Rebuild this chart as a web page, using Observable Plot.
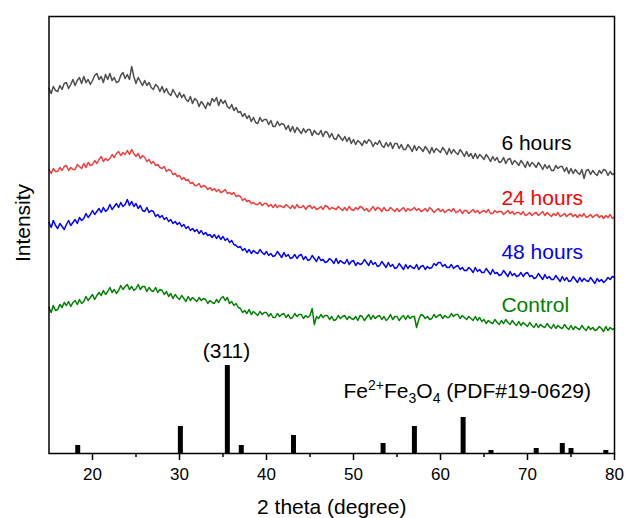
<!DOCTYPE html>
<html><head><meta charset="utf-8">
<script src="https://cdn.jsdelivr.net/npm/d3@7"></script>
<script src="https://cdn.jsdelivr.net/npm/@observablehq/plot@0.6"></script>
<style>body{margin:0;background:#fff;}</style>
</head><body><div id="chart"></div>
<script>
// 2θ sampling of the patterns (degrees)
const thetaStart = 15, thetaStep = 0.25;

// Intensities (a.u., offset-stacked as in the figure), one value every 0.25°
const hours6 = [
365,360,367,363, 362,368,364,370, 371,365,369,374, 368,373,376,370, 377,371,374,369,
373,378,380,374, 377,371,379,374, 380,373,376,371, 372,378,381,375, 379,374,387,377,
370,376,372,368, 373,368,371,366, 364,369,367,362, 367,361,365,360, 358,364,360,356,
361,356,359,354, 352,357,350,355, 353,347,352,349, 345,351,348,355, 352,356,348,354,
350,353,347,345, 349,343,346,341, 342,337,340,335, 338,332,336,331, 330,336,332,334,
334,329,333,327, 327,332,328,330, 329,324,328,322, 327,321,326,323, 320,325,321,324,
324,318,323,320, 319,323,317,322, 321,316,320,315, 314,319,316,313, 317,312,316,310,
314,309,313,311, 308,313,310,314, 312,307,311,309, 313,308,306,311, 307,311,305,310,
310,305,309,304, 304,309,306,302, 308,303,307,305, 302,307,304,300, 306,301,305,303,
301,306,303,299, 305,300,304,301, 299,304,301,297, 302,297,300,295, 300,295,299,297,
294,299,296,292, 297,293,296,291, 292,296,290,294, 295,289,293,291, 288,293,290,286,
292,287,291,289, 286,291,288,284, 289,285,288,283, 283,288,285,287, 287,282,286,280,
285,280,284,281, 279,284,275,283, 284,279,283,280, 278,283,280,284, 283,278,282,279,
280];
const hours24 = [
284,280,285,282, 282,286,283,287, 288,283,286,284, 284,289,287,285, 290,286,291,288,
289,293,290,294, 297,292,295,293, 295,299,296,300, 302,298,301,299, 303,299,304,300,
297,300,295,298, 296,292,294,290, 292,288,289,286, 285,287,282,284, 283,279,280,277,
278,274,276,273, 274,270,271,268, 268,270,266,268, 267,264,266,263, 265,262,264,261,
262,264,260,261, 259,261,257,258, 257,253,255,252, 253,250,251,249, 249,251,248,250,
250,247,249,246, 249,246,248,247, 246,249,247,245, 248,245,249,246, 246,248,244,247,
248,245,247,244, 245,247,244,248, 247,244,246,245, 244,247,245,243, 246,243,247,244,
243,246,244,247, 246,243,245,242, 244,247,243,246, 245,242,246,243, 243,246,244,242,
245,242,244,246, 242,245,243,244, 246,243,245,242, 243,245,242,246, 244,241,243,245,
242,244,241,243, 244,242,245,241, 242,244,240,243, 243,240,242,244, 241,243,240,242,
243,241,244,240, 240,243,241,242, 242,239,241,243, 240,242,239,241, 241,239,242,238,
239,241,238,240, 241,238,240,242, 238,241,239,237, 240,238,241,237, 238,240,237,239,
240,237,239,236, 239,237,240,236, 237,239,236,238, 239,236,238,235, 238,236,239,235,
237];
const hours48 = [
231,226,233,228, 225,230,227,224, 229,233,228,231, 234,230,236,233, 235,240,236,239,
243,239,242,245, 241,246,242,244, 249,244,247,250, 246,251,247,249, 254,248,252,247,
250,245,248,243, 242,246,241,243, 242,237,239,236, 238,234,236,232, 234,230,232,229,
231,227,229,225, 227,223,225,222, 224,220,223,219, 221,218,219,216, 219,215,218,214,
217,213,215,211, 213,209,208,206, 207,203,205,201, 204,200,203,201, 200,204,201,199,
202,198,200,197, 198,202,199,196, 201,197,199,195, 196,199,195,198, 199,194,197,193,
194,198,195,192, 197,193,194,191, 192,195,193,190, 195,190,193,191, 190,194,189,192,
193,188,191,189, 190,194,191,188, 193,189,191,187, 188,192,189,186, 191,187,189,185,
186,190,187,184, 189,185,188,186, 185,189,184,187, 188,184,187,185, 186,190,188,191,
191,187,189,186, 186,189,185,187, 188,184,186,183, 183,186,184,181, 186,182,184,181,
181,185,182,179, 184,180,181,178, 179,183,180,177, 182,178,180,177, 178,181,177,180,
181,177,178,175, 176,180,177,174, 179,175,177,174, 174,178,175,172, 177,173,176,172,
173,177,174,171, 176,172,175,173, 172,176,173,170, 175,172,174,171, 173,176,174,177,
176];
const control = [
146,141,148,143, 144,149,146,151, 148,152,147,151, 153,149,154,150, 152,157,153,156,
159,154,158,161, 158,163,159,162, 166,161,164,160, 163,168,164,167, 169,164,167,163,
165,169,164,167, 167,162,166,163, 162,166,161,164, 163,159,162,157, 160,155,159,156,
154,158,155,152, 157,153,156,154, 152,156,153,155, 154,150,153,151, 150,154,151,155,
157,153,156,150, 152,148,150,146, 145,141,143,140, 144,139,142,140, 138,142,139,141,
141,137,140,136, 136,140,137,139, 140,136,139,135, 136,140,137,139, 139,135,138,136,
138,145,129,137, 135,139,136,138, 138,134,137,133, 134,138,135,137, 138,134,137,135,
134,137,133,138, 137,133,136,139, 134,138,135,137, 138,134,137,133, 135,139,134,137,
137,133,136,138, 134,138,135,137, 137,126,134,139, 138,135,137,134, 135,139,136,138,
139,135,138,136, 136,140,137,139, 139,135,138,136, 134,137,135,133, 137,133,136,132,
134,130,133,131, 130,134,131,129, 133,130,134,131, 129,133,130,128, 132,128,131,129,
127,131,128,126, 130,126,129,127, 126,130,127,125, 129,125,128,126, 125,129,126,124,
128,124,127,125, 124,128,125,123, 127,124,126,123, 124,127,125,122, 127,123,126,124,
125];

// Reference pattern Fe2+Fe3O4 (PDF#19-0629)
const refTheta = [18.3, 30.1, 35.5, 37.1, 43.1, 53.4, 57.0, 62.6, 65.8, 71.0, 74.0, 75.0, 79.0];
const refIntensity = [8, 27, 88, 8, 18, 10, 27, 36, 3, 5, 10, 5, 3];

const seriesNames = ["6 hours", "24 hours", "48 hours", "Control"];
const seriesColors = ["#4d4d4d", "#f03c3c", "#0000ff", "#008000"];
const labelColors = ["#000000", "#ff0000", "#0000ff", "#008000"];
const labelIntensity = [310, 255, 201, 148];
const labelTheta = 67;
const majorTicks = [20, 30, 40, 50, 60, 70, 80];
const minorTicks = [25, 35, 45, 55, 65, 75];

const rows = [];
[hours6, hours24, hours48, control].forEach((arr, s) =>
  arr.forEach((v, i) => rows.push({theta: thetaStart + i * thetaStep, intensity: v, series: seriesNames[s]})));
const peaks = refTheta.map((t, i) => ({theta: t, h: refIntensity[i]}));

const font = "'Liberation Sans', Arial, Helvetica, sans-serif";
const labelMarks = seriesNames.map((n, i) =>
  Plot.text([{theta: labelTheta, y: labelIntensity[i], name: n}],
    {x: "theta", y: "y", text: "name", fill: labelColors[i], textAnchor: "start", fontSize: 21}));

const chart = Plot.plot({
  width: 627, height: 518,
  marginLeft: 48.5, marginRight: 13, marginTop: 16, marginBottom: 65,
  style: {fontFamily: font, background: "white", color: "black"},
  x: {domain: [15, 80]},
  y: {domain: [0, 437], axis: null},
  color: {domain: seriesNames, range: seriesColors},
  marks: [
    Plot.ruleX(peaks, {x: "theta", y1: 0, y2: "h", stroke: "black", strokeWidth: 5}),
    Plot.line(rows, {x: "theta", y: "intensity", z: "series", stroke: "series", strokeWidth: 1.5}),
    Plot.axisX({ticks: majorTicks, tickSize: 7, tickPadding: 7, fontSize: 17, label: null, stroke: "black", strokeWidth: 1.5}),
    Plot.axisX({ticks: minorTicks, tickSize: 4, tickFormat: () => "", label: null, stroke: "black", strokeWidth: 1.5}),
    Plot.frame({stroke: "black", strokeWidth: 1.5}),
    ...labelMarks,
    Plot.text([{theta: 35.4, y: 102, t: "(311)"}], {x: "theta", y: "y", text: "t", fontSize: 21, fill: "black"}),
    Plot.text([{theta: 48.85, y: 62, t: "Fe2+Fe3O4 (PDF#19-0629)"}], {x: "theta", y: "y", text: "t", fontSize: 21, textAnchor: "start", fill: "black"}),
    Plot.text(["2 theta (degree)"], {frameAnchor: "bottom", lineAnchor: "middle", textAnchor: "middle", dy: 54, fontSize: 21, fill: "black"}),
    Plot.text(["Intensity"], {frameAnchor: "left", lineAnchor: "middle", textAnchor: "middle", rotate: -90, dx: -26, dy: -12, fontSize: 21, fill: "black"})
  ]
});
document.getElementById("chart").appendChild(chart);

// chemical formula with superscript / subscripts
chart.querySelectorAll("text").forEach(t => {
  if (t.textContent === "Fe2+Fe3O4 (PDF#19-0629)") {
    while (t.firstChild) t.removeChild(t.firstChild);
    const parts = [["Fe", 0, null], ["2+", -8, 14], ["Fe", 8, null], ["3", 5, 14], ["O", -5, null], ["4", 5, 14], [" (PDF#19-0629)", -5, null]];
    parts.forEach(([s, dy, fs]) => {
      const ts = document.createElementNS("http://www.w3.org/2000/svg", "tspan");
      ts.textContent = s;
      if (dy) ts.setAttribute("dy", dy);
      if (fs) ts.setAttribute("font-size", fs);
      t.appendChild(ts);
    });
  }
});
</script>
</body></html>
